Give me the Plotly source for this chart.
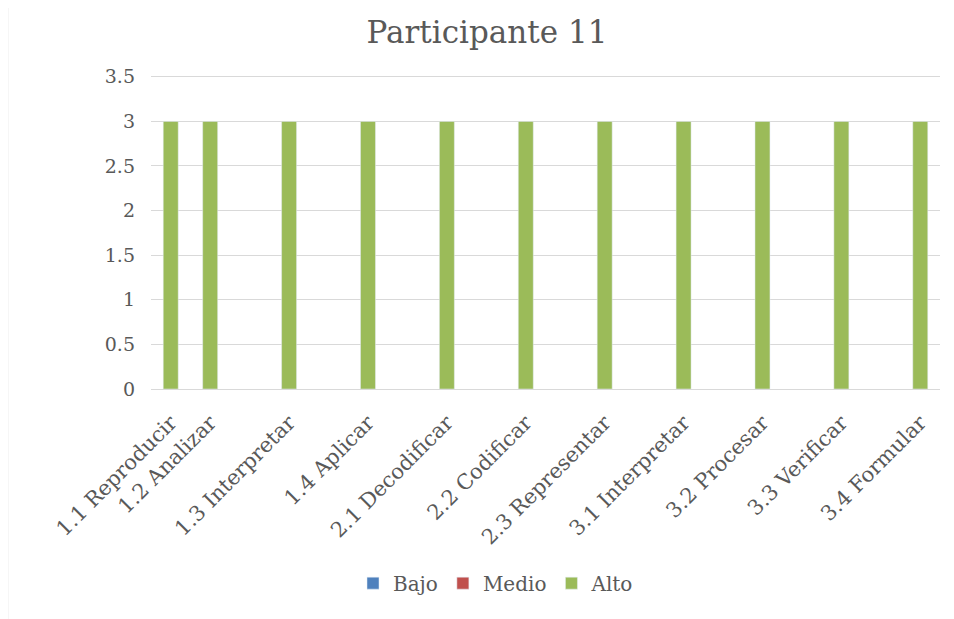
import plotly.graph_objects as go

categories = ["1.1 Reproducir", "1.2 Analizar", " ", "1.3 Interpretar", "  ", "1.4 Aplicar",
              "   ", "2.1 Decodificar", "    ", "2.2 Codificar", "     ", "2.3 Representar",
              "      ", "3.1 Interpretar", "       ", "3.2 Procesar", "        ", "3.3 Verificar",
              "         ", "3.4 Formular"]
bajo = [None] * 20
medio = [None] * 20
alto = [3, 3, None, 3, None, 3, None, 3, None, 3, None, 3, None, 3, None, 3, None, 3, None, 3]
y_ticks = [0, 0.5, 1, 1.5, 2, 2.5, 3, 3.5]

FONT = "DejaVu Serif"
TXT = "#595959"

fig = go.Figure()
fig.add_trace(go.Bar(name="Bajo", x=categories, y=bajo, marker_color="#4F81BD", width=0.38))
fig.add_trace(go.Bar(name="Medio", x=categories, y=medio, marker_color="#C0504D", width=0.38))
fig.add_trace(go.Bar(name="Alto", x=categories, y=alto, marker_color="#9BBB59", width=0.38))

O = 8  # page body offset
YMAX = 3.52
W, H = 954 - O, 619 - O
bottom_px = 389
top_px = bottom_px - (bottom_px - 77) * YMAX / 3.5
L, R, T, B = 151 - O, 954 - 940, top_px - O, 619 - bottom_px
pw, ph = W - L - R, H - T - B

def px_x(p):
    return (p - O - L) / pw

def px_y(p):
    return (H - B - (p - O)) / ph

fig.update_layout(
    width=W, height=H,
    margin=dict(l=L, r=R, t=T, b=B),
    paper_bgcolor="white", plot_bgcolor="white",
    barmode="overlay",
    font=dict(family=FONT, color=TXT, size=18),
    title=dict(text="Participante 11", x=(487 - O) / W, xanchor="center", y=1 - (32 - O) / H, yanchor="middle",
               font=dict(family=FONT, size=31, color=TXT)),
    xaxis=dict(type="category", categoryorder="array", categoryarray=categories,
               tickangle=-45, showgrid=False, showline=True, linecolor="#D9D9D9", linewidth=1,
               ticks="", tickfont=dict(size=21, family=FONT, color=TXT), ticklabelstandoff=12,
               range=[-0.5, 19.5]),
    yaxis=dict(range=[0, YMAX], tickvals=y_ticks, showgrid=True,
               gridcolor="#D9D9D9", gridwidth=1,
               zeroline=False, showline=False, ticks="", tickfont=dict(size=19, family=FONT, color=TXT),
               ticklabelstandoff=15),
    legend=dict(orientation="h", x=px_x(496), xanchor="center", y=px_y(583), yanchor="middle",
                font=dict(size=20, family=FONT, color=TXT), itemwidth=30, traceorder="normal"),
    shapes=[
        dict(type="line", xref="paper", yref="paper", x0=px_x(7.5), x1=px_x(954), y0=px_y(7.5), y1=px_y(7.5),
             line=dict(color="#D9D9D9", width=1.5)),
        dict(type="line", xref="paper", yref="paper", x0=px_x(7.5), x1=px_x(7.5), y0=px_y(7.5), y1=px_y(619),
             line=dict(color="#D9D9D9", width=1.5)),
    ],
)

fig.write_html("out.html")
